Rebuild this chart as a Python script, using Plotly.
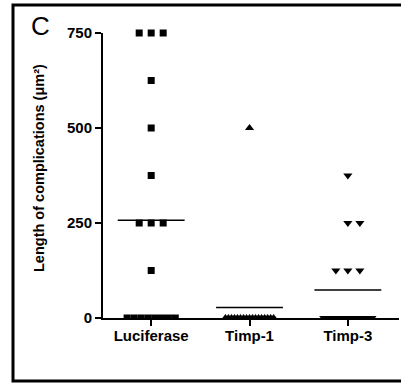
import plotly.graph_objects as go
import numpy as np

categories = ["Luciferase", "Timp-1", "Timp-3"]
luciferase = [750, 750, 750, 625, 500, 375, 250, 250, 250, 125, 0, 0, 0, 0, 0, 0, 0, 0]
timp1 = [500] + [0] * 17
timp3 = [375, 250, 250, 125, 125, 125] + [0] * 11
yticks = [0, 250, 500, 750]
ytitle = "Length of complications (μm²)"
panel = "C"

series = [luciferase, timp1, timp3]
symbols = ["square", "triangle-up", "triangle-down"]
sizes = [7, 8, 8]

W, H = 401, 385
PL, PR, PT, PB = 103, 399, 33, 318   # plot-area edges in pixels
FONT = "Liberation Sans, Arial, sans-serif"

def pp(px, py):
    return px / W, 1 - py / H

fig = go.Figure()

# outer frame (open on the right), drawn on a full-page overlay axis in pixel units
fig.add_trace(go.Scatter(x=[401, 13, 13, 401], y=[5, 5, 381, 381], mode="lines",
                         line=dict(color="black", width=3), xaxis="x2", yaxis="y2",
                         hoverinfo="skip", showlegend=False, cliponaxis=False))

step = 0.122
for i, vals in enumerate(series):
    xs_nz, ys_nz, xs_z, ys_z = [], [], [], []
    for v in sorted(set(vals), reverse=True):
        n = vals.count(v)
        sp = min(step, 0.49 / max(n - 1, 1))
        if v == 0:
            offs = [(k - (n - 1) / 2) * sp for k in range(n)]
            xs_z += [i + o for o in offs]; ys_z += [v] * n
        else:
            offs = [(k - (n - 1) // 2) * sp for k in range(n)]
            xs_nz += [i + o for o in offs]; ys_nz += [v] * n
    mk = dict(symbol=symbols[i], size=sizes[i], color="black", line=dict(width=0))
    fig.add_trace(go.Scatter(x=xs_nz, y=ys_nz, mode="markers", marker=mk, cliponaxis=False, showlegend=False))
    fig.add_trace(go.Scatter(x=xs_z, y=ys_z, mode="markers", marker=mk, cliponaxis=True, showlegend=False))
    m = float(np.mean(vals))
    fig.add_trace(go.Scatter(x=[i - 0.34, i + 0.34], y=[m, m], mode="lines",
                             line=dict(color="black", width=1.5), showlegend=False))

cx, cy = pp(40, 26)
fig.add_annotation(x=cx, y=cy, xref="paper", yref="paper", text=panel, showarrow=False,
                   font=dict(family=FONT, size=26, color="black"), xanchor="center", yanchor="middle")
tx, ty = pp(39, 168)
fig.add_annotation(x=tx, y=ty, xref="paper", yref="paper", text="<b>" + ytitle + "</b>", showarrow=False,
                   textangle=-90, font=dict(family=FONT, size=14.5, color="black"),
                   xanchor="center", yanchor="middle")

fig.update_layout(
    xaxis=dict(domain=[PL / W, PR / W], range=[-0.49, 2.52], tickvals=[0, 1, 2],
               ticktext=["<b>" + c + "</b>" for c in categories], automargin=False,
               showline=True, linecolor="black", linewidth=2, ticks="outside", ticklen=6,
               tickwidth=2, tickcolor="black", showgrid=False, zeroline=False,
               ticklabelstandoff=-3, tickfont=dict(family=FONT, size=15, color="black")),
    yaxis=dict(domain=[1 - PB / H, 1 - PT / H], range=[0, 750], tickvals=yticks,
               ticktext=["<b>%d</b>" % v for v in yticks], automargin=False,
               showline=True, linecolor="black", linewidth=2, ticks="outside", ticklen=6,
               tickwidth=2, tickcolor="black", showgrid=False, zeroline=False,
               tickfont=dict(family=FONT, size=15, color="black")),
    xaxis2=dict(domain=[0, 1], range=[0, W], visible=False, anchor="y2", fixedrange=True),
    yaxis2=dict(domain=[0, 1], range=[H, 0], visible=False, anchor="x2", fixedrange=True),
    width=W, height=H, margin=dict(l=0, r=0, t=0, b=0, pad=0),
    plot_bgcolor="rgba(0,0,0,0)", paper_bgcolor="white")
fig.write_html("out.html", config={"displayModeBar": False},
               post_script="document.body.style.margin='0';document.body.style.overflow='hidden';")
